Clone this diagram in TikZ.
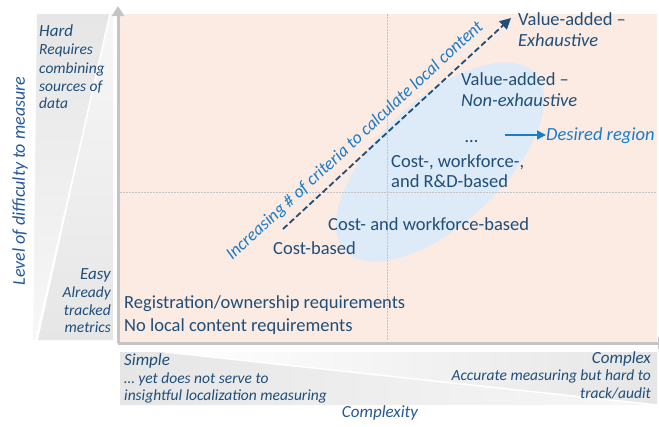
\documentclass[tikz,border=0pt]{standalone}
\usepackage{fontspec}
\setmainfont{Carlito}
\usetikzlibrary{arrows.meta}
\definecolor{dblue}{HTML}{1F4E79}
\definecolor{axblue}{HTML}{24589A}
\definecolor{lblue}{HTML}{1A7DC8}
\definecolor{pinkbg}{HTML}{FCEBE3}
\definecolor{ellblue}{HTML}{DDEAF7}
\definecolor{axisgray}{HTML}{C4C4C4}
\definecolor{bandgray}{HTML}{E6E6E6}
\definecolor{bandlight}{HTML}{F7F7F7}
\tikzset{
  maintxt/.style={font=\fontsize{18.5}{22}\selectfont, text=dblue, inner sep=0pt, anchor=base west},
  mainit/.style={maintxt, font=\fontsize{18.5}{22}\selectfont\itshape},
  sidetxt/.style={font=\fontsize{15.5}{18}\selectfont\itshape, text=dblue, inner sep=0pt},
  headtxt/.style={font=\fontsize{17}{20}\selectfont\itshape, text=dblue, inner sep=0pt},
  axtxt/.style={font=\fontsize{18}{21}\selectfont\itshape, text=axblue, inner sep=0pt},
  axisline/.style={draw=axisgray, line width=3pt, -{Triangle[length=10pt,width=12pt]}},
  gridline/.style={draw=axisgray, line width=1pt, dash pattern=on 1.5pt off 1.5pt},
}
\begin{document}
\begin{tikzpicture}[x=1pt,y=-1pt]
\useasboundingbox (0,0) rectangle (659,426);
% left band
\shade[top color=bandgray, bottom color=bandlight] (37,14) -- (110,14) -- (35,340) -- (33,340) -- cycle;
\shade[top color=bandlight, bottom color=bandgray] (110,14) -- (113,14) -- (113,340) -- (38,340) -- cycle;
\draw[white, line width=1.5pt] (110,14) -- (36,340);
% bottom band
\shade[left color=bandgray, right color=bandlight] (120,352) -- (165,352) -- (657,405) -- (120,405) -- cycle;
\shade[left color=white, right color=bandgray] (165,352) -- (657,352) -- (657,405) -- cycle;
\draw[white, line width=1.5pt] (165,352) -- (657,405);
% panel
\fill[pinkbg] (119,14) rectangle (657,342);
\fill[ellblue, rotate around={43:(440,162)}] (440,162) ellipse [x radius=130, y radius=62];
\draw[gridline] (387,14) -- (387,341);
\draw[gridline] (120,192) -- (657,192);
% axes
\coordinate (o) at (118,343);
\coordinate (ytop) at (118,6);
\coordinate (xend) at (668,343);
\draw[axisline] (o) -- (ytop);
\draw[axisline] (o) -- (xend);
% axis labels
\node[axtxt, rotate=90] (ylab) at (20,181) {Level of difficulty to measure};
\node[axtxt, font=\fontsize{17}{20}\selectfont\itshape] (xlab) at (380,413) {Complexity};
% hard block
\node[headtxt, anchor=base west] (hard) at (39,36) {Hard};
\node[sidetxt, anchor=base west] (hard1) at (39,54) {Requires};
\node[sidetxt, anchor=base west] (hard2) at (39,73) {combining};
\node[sidetxt, anchor=base west] (hard3) at (39,91) {sources of};
\node[sidetxt, anchor=base west] (hard4) at (39,108) {data};
% easy block
\node[headtxt, anchor=base east] (easy) at (111,279) {Easy};
\node[sidetxt, anchor=base east] (easy1) at (111,297) {Already};
\node[sidetxt, anchor=base east] (easy2) at (111,315) {tracked};
\node[sidetxt, anchor=base east] (easy3) at (111,332) {metrics};
% simple block
\node[headtxt, anchor=base west] (simple) at (124,365) {Simple};
\node[sidetxt, anchor=base west] (simple1) at (124,383) {\ldots{} yet does not serve to};
\node[sidetxt, anchor=base west] (simple2) at (124,400) {insightful localization measuring};
% complex block
\node[headtxt, anchor=base east] (complex) at (651,363) {Complex};
\node[sidetxt, anchor=base east] (complex1) at (651,380) {Accurate measuring but hard to};
\node[sidetxt, anchor=base east] (complex2) at (651,398) {track/audit};
% main texts
\node[maintxt] (reg) at (124,308) {Registration/ownership requirements};
\node[maintxt] (nolc) at (124,331) {No local content requirements};
\node[maintxt] (cost) at (273,254) {Cost-based};
\node[maintxt] (costwf) at (328,230) {Cost- and workforce-based};
\node[maintxt] (crd1) at (391,167) {Cost-, workforce-,};
\node[maintxt] (crd2) at (391,187) {and R\&D-based};
\node[maintxt] (dots) at (465,142) {\ldots};
\node[maintxt] (vane1) at (461,85) {Value-added --};
\node[mainit] (vane2) at (461,106) {Non-exhaustive};
\node[maintxt] (vae1) at (518,25) {Value-added --};
\node[mainit] (vae2) at (518,46) {Exhaustive};
\node[mainit, text=lblue] (desired) at (546,140) {Desired region};
\coordinate (dstart) at (505,135);
\draw[lblue, line width=1.6pt, -{Triangle[length=9pt,width=9pt]}] (dstart) -- (desired.west |- dstart);
% dashed arrow
\coordinate (as) at (283,229);
\coordinate (ae) at (511,18);
\draw[dblue, line width=1.8pt, dash pattern=on 6pt off 3pt, -{Triangle[length=11pt,width=11pt]}] (as) -- (ae);
\node[axtxt, text=lblue, rotate=42.8, font=\fontsize{17.7}{21}\selectfont\itshape] (incr) at (355,141) {Increasing \# of criteria to calculate local content};
\end{tikzpicture}
\end{document}
